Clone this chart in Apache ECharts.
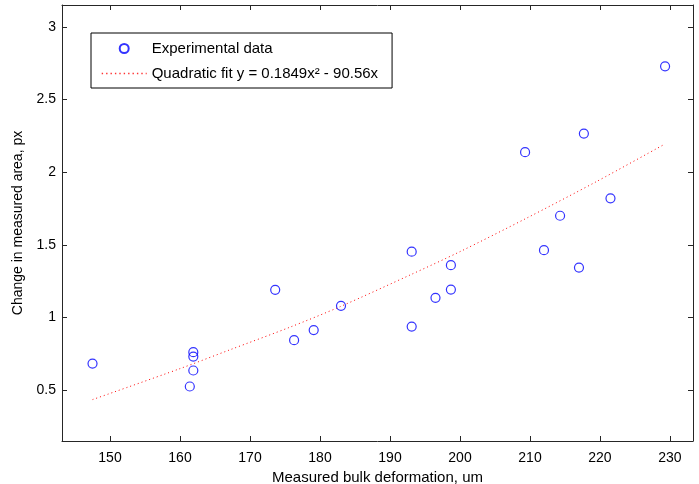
<!DOCTYPE html>
<html>
<head>
<meta charset="utf-8">
<script src="https://cdn.jsdelivr.net/npm/echarts@6/dist/echarts.min.js"></script>
<style>
  html, body { margin: 0; padding: 0; background: #fff; }
  #main { width: 699px; height: 484px; }
</style>
</head>
<body>
<div id="main"></div>
<script>
// measured points (deformation um, area change px)
var deformation = [147.5, 161.4, 161.9, 161.9, 161.9, 173.6, 176.3, 179.1, 183.0, 193.1, 193.1,
                   196.5, 198.7, 198.7, 209.3, 212.0, 214.3, 217.0, 217.7, 221.5, 229.3];
var areaChange  = [0.683, 0.525, 0.635, 0.731, 0.761, 1.19, 0.844, 0.913, 1.08, 1.453, 0.937,
                   1.135, 1.36, 1.192, 2.137, 1.463, 1.70, 1.343, 2.265, 1.82, 2.728];

// fit curve
var fitX = [147.5, 160, 167.1, 175.7, 182.9, 192.9, 200, 209.5, 219.5, 229.3];
var fitY = [0.435, 0.648, 0.777, 0.933, 1.075, 1.293, 1.453, 1.683, 1.935, 2.194];

var xMin = 143.14, xMax = 233.29;
var yMin = 0.15, yMax = 3.15;

var font = 'Liberation Sans, Arial, sans-serif';
var axisColor = '#262626';
var fitName = 'Quadratic fit y = 0.1849x² - 90.56x';

function pairs(a, b) {
    var out = [];
    for (var i = 0; i < a.length; i++) out.push([a[i], b[i]]);
    return out;
}

function xAxisOpt(pos, show) {
    return {
        type: 'value', position: pos, min: xMin, max: xMax,
        minInterval: 10, maxInterval: 10,
        axisLine: { show: true, onZero: false, lineStyle: { color: axisColor, width: 1 } },
        axisTick: { show: true, inside: true, length: 5, lineStyle: { color: axisColor } },
        axisLabel: { show: show, showMinLabel: false, showMaxLabel: false,
                     color: '#000', fontFamily: font, fontSize: 14, margin: 10 },
        splitLine: { show: false }
    };
}

function yAxisOpt(pos, show) {
    return {
        type: 'value', position: pos, min: yMin, max: yMax,
        minInterval: 0.5, maxInterval: 0.5,
        axisLine: { show: true, onZero: false, lineStyle: { color: axisColor, width: 1 } },
        axisTick: { show: true, inside: true, length: 5, lineStyle: { color: axisColor } },
        axisLabel: { show: show, showMinLabel: false, showMaxLabel: false,
                     color: '#000', fontFamily: font, fontSize: 14, margin: 6 },
        splitLine: { show: false }
    };
}

var myChart = echarts.init(document.getElementById('main'));

var xBottom = xAxisOpt('bottom', true);
xBottom.name = 'Measured bulk deformation, um';
xBottom.nameLocation = 'middle';
xBottom.nameGap = 21;
xBottom.nameTextStyle = { color: '#000', fontFamily: font, fontSize: 15 };

var yLeft = yAxisOpt('left', true);
yLeft.name = 'Change in measured area, px';
yLeft.nameLocation = 'middle';
yLeft.nameGap = 36;
yLeft.nameTextStyle = { color: '#000', fontFamily: font, fontSize: 14 };

var option = {
    backgroundColor: '#fff',
    animation: false,
    grid: { left: 62, top: 5, right: 6, bottom: 43, containLabel: false, outerBoundsMode: 'none' },
    xAxis: [xBottom, xAxisOpt('top', false)],
    yAxis: [yLeft, yAxisOpt('right', false)],
    legend: {
        left: 91, top: 33,
        orient: 'vertical',
        padding: [8, 14, 7, 10],
        itemWidth: 45, itemHeight: 9, itemGap: 10,
        borderColor: '#000', borderWidth: 1, borderRadius: 0,
        backgroundColor: '#fff',
        textStyle: { color: '#000', fontFamily: font, fontSize: 15, lineHeight: 15 },
        data: [
            { name: 'Experimental data' },
            { name: fitName,
              itemStyle: { color: 'rgba(0,0,0,0)', borderColor: 'rgba(0,0,0,0)', borderWidth: 0 },
              lineStyle: { color: '#ff3333', width: 1.4, type: [1.4, 3], opacity: 1 } }
        ]
    },
    series: [
        {
            name: 'Experimental data',
            type: 'scatter',
            symbol: 'circle',
            symbolSize: 9,
            itemStyle: { color: 'rgba(255,255,255,0)', borderColor: '#0000ff', borderWidth: 1.2 },
            data: pairs(deformation, areaChange),
            z: 3
        },
        {
            name: fitName,
            type: 'line',
            symbol: 'none',
            smooth: 0.3,
            lineStyle: { color: '#ff0000', width: 1, type: [1, 3] },
            itemStyle: { color: '#ff0000' },
            data: pairs(fitX, fitY),
            z: 2
        }
    ]
};

myChart.setOption(option);
</script>
</body>
</html>
